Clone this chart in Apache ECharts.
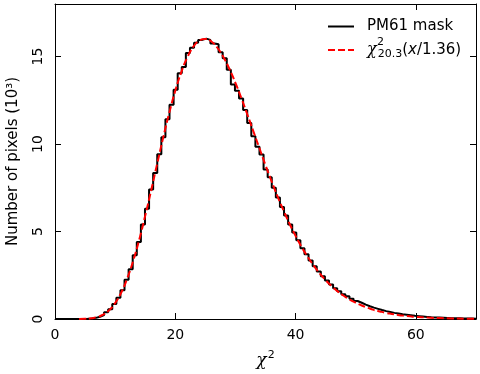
<!DOCTYPE html>
<html>
<head>
<meta charset="utf-8">
<script src="https://cdn.jsdelivr.net/npm/echarts@6/dist/echarts.min.js"></script>
<style>
  html, body { margin: 0; padding: 0; background: #fff; }
  #main { width: 480px; height: 374px; }
</style>
</head>
<body>
<div id="main"></div>
<script>
// histogram of the mask: bins of width 0.68 starting at 0, counts in 10^3
const binStart = 0;
const binWidth = 0.68;
const histCounts = [
  0, 0, 0, 0, 0, 0.002, 0.005, 0.012, 0.03, 0.065,
  0.13, 0.23, 0.38, 0.56, 0.86, 1.22, 1.64, 2.24, 2.85, 3.65,
  4.40, 5.40, 6.30, 7.40, 8.35, 9.42, 10.38, 11.42, 12.25, 13.10,
  14.05, 14.40, 15.20, 15.50, 15.78, 15.95, 16.02, 15.95, 15.74, 15.70,
  15.25, 14.90, 14.25, 13.40, 13.05, 12.60, 11.95, 11.20, 10.45, 9.85,
  9.40, 8.55, 8.10, 7.50, 6.95, 6.40, 5.92, 5.40, 4.95, 4.50,
  4.05, 3.70, 3.35, 3.02, 2.72, 2.45, 2.20, 1.97, 1.76, 1.58,
  1.42, 1.30, 1.16, 1.03, 0.93, 0.82, 0.73, 0.65, 0.58, 0.51,
  0.45, 0.40, 0.35, 0.31, 0.27, 0.24, 0.21, 0.18, 0.16, 0.14,
  0.12, 0.10, 0.09, 0.08, 0.07, 0.06, 0.05, 0.045, 0.04, 0.035,
  0.03, 0.025, 0.02
];

// red reference curve
const chiX = [
  4, 5, 6, 7, 8, 9, 10, 11, 12, 13, 14, 15, 16, 17, 18, 19, 20, 21, 22, 23,
  24, 25, 26, 27, 28, 29, 30, 31, 32, 33, 34, 35, 36, 37, 38, 39, 40, 41, 42, 43,
  44, 45, 46, 47, 48, 49, 50, 51, 52, 53, 54, 55, 56, 57, 58, 59, 60, 62, 64, 66,
  68, 70
];
const chiY = [
  0.002, 0.01, 0.037, 0.105, 0.246, 0.50, 0.91, 1.50, 2.31, 3.32, 4.53, 5.90, 7.37, 8.89, 10.38, 11.79, 13.04, 14.11, 14.95, 15.56,
  15.91, 16.0, 15.86, 15.50, 14.97, 14.29, 13.49, 12.61, 11.67, 10.71, 9.75, 8.79, 7.88, 7.01, 6.20, 5.44, 4.75, 4.12, 3.56, 3.06,
  2.61, 2.22, 1.88, 1.58, 1.33, 1.11, 0.93, 0.77, 0.64, 0.52, 0.43, 0.35, 0.29, 0.235, 0.19, 0.154, 0.124, 0.08, 0.052, 0.033,
  0.021, 0.013
];

const xTicks = { min: 0, max: 70, interval: 20 };
const yTicks = { min: 0, max: 18, interval: 5 };

const histData = histCounts.map((v, i) => [binStart + i * binWidth, v]);
histData.push([binStart + histCounts.length * binWidth, histCounts[histCounts.length - 1]]);
const chiData = chiX.map((x, i) => [x, chiY[i]]);

const font = 'DejaVu Sans';
const frame = { show: true, onZero: false, lineStyle: { color: '#000', width: 1 } };
const inTicks = { inside: true, length: 6, lineStyle: { color: '#000', width: 1 } };

const myChart = echarts.init(document.getElementById('main'), null, { renderer: 'canvas' });
myChart.setOption({
  animation: false,
  backgroundColor: '#fff',
  textStyle: { fontFamily: font },
  grid: { left: 55, right: 4, top: 4, bottom: 55, containLabel: false, outerBoundsMode: 'none' },
  legend: {
    orient: 'vertical',
    left: 322,
    top: 14,
    itemWidth: 26,
    itemHeight: 14,
    itemGap: 8,
    itemStyle: { opacity: 0 },
    data: ['PM61 mask', 'chi'],
    formatter: name => name === 'chi'
      ? '{c|χ}{s|20.3}{n|(}{x|x}{n|/1.36)}'
      : name,
    textStyle: {
      fontSize: 15,
      color: '#000',
      padding: [0, 0, 0, 8],
      rich: {
        c: { fontSize: 16, fontStyle: 'italic', fontFamily: 'DejaVu Serif', color: '#000' },
        s: { fontSize: 11, color: '#000', padding: [8, 0, 0, 1] },
        n: { fontSize: 15, color: '#000' },
        x: { fontSize: 15, fontStyle: 'italic', color: '#000' }
      }
    }
  },
  graphic: [{
    type: 'text',
    left: 377,
    top: 37,
    style: { text: '2', fontSize: 11, fill: '#000', fontFamily: font }
  }],
  xAxis: [{
    type: 'value',
    position: 'bottom',
    min: xTicks.min, max: xTicks.max, interval: xTicks.interval,
    splitLine: { show: false },
    axisLine: frame,
    axisTick: inTicks,
    axisLabel: { fontSize: 14, color: '#000', margin: 9, showMaxLabel: false },
    name: '{c|χ}{s|2}',
    nameLocation: 'middle',
    nameGap: 31,
    nameTextStyle: {
      rich: {
        c: { fontSize: 17, fontStyle: 'italic', fontFamily: 'DejaVu Serif', color: '#000' },
        s: { fontSize: 11, color: '#000', padding: [0, 0, 10, 1] }
      }
    }
  }, {
    type: 'value',
    position: 'top',
    min: xTicks.min, max: xTicks.max, interval: xTicks.interval,
    splitLine: { show: false },
    axisLine: frame,
    axisTick: inTicks,
    axisLabel: { show: false }
  }],
  yAxis: [{
    type: 'value',
    position: 'left',
    min: yTicks.min, max: yTicks.max, interval: yTicks.interval,
    splitLine: { show: false },
    axisLine: frame,
    axisTick: inTicks,
    axisLabel: { fontSize: 14, color: '#000', rotate: 90, margin: 10, showMaxLabel: false },
    name: 'Number of pixels (10³)',
    nameLocation: 'middle',
    nameRotate: 90,
    nameGap: 34,
    nameTextStyle: { fontSize: 15, color: '#000' }
  }, {
    type: 'value',
    position: 'right',
    min: yTicks.min, max: yTicks.max, interval: yTicks.interval,
    splitLine: { show: false },
    axisLine: frame,
    axisTick: inTicks,
    axisLabel: { show: false }
  }],
  series: [
    {
      name: 'PM61 mask',
      type: 'line',
      step: 'end',
      symbol: 'none',
      data: histData,
      color: '#000',
      lineStyle: { color: '#000', width: 2 },
      z: 2
    },
    {
      name: 'chi',
      type: 'line',
      smooth: true,
      symbol: 'none',
      data: chiData,
      color: '#ff0000',
      lineStyle: { color: '#ff0000', width: 2, type: [7, 3] },
      z: 3
    }
  ]
});
</script>
</body>
</html>
